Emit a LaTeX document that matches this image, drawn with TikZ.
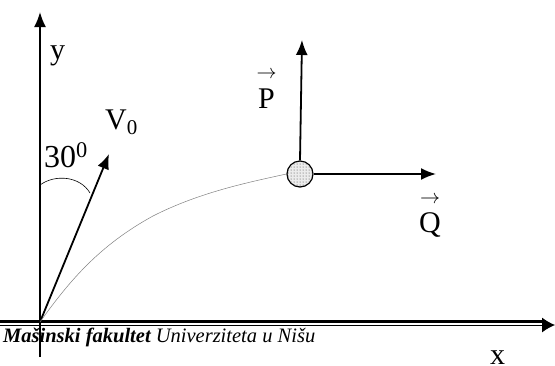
\documentclass[tikz,border=0pt]{standalone}
\usepackage{fontspec}
\setmainfont{Liberation Serif}
\usetikzlibrary{arrows.meta, patterns, positioning}

% vektorska oznaka: strelica iznad slova
\newcommand{\vekt}[2]{\ooalign{#2\cr\hidewidth\raisebox{#1}{\resizebox{20pt}{!}{$\rightarrow$}}\hidewidth\cr}}

\begin{document}
\begin{tikzpicture}[x=1pt, y=-1pt, >={Latex[length=15pt,width=12pt]},
    oznaka/.style={font=\fontsize{30}{32}\selectfont, inner sep=0pt, anchor=base west},
    vektor/.style={line width=1.8pt, ->}]
    \useasboundingbox (0,0) rectangle (555,365);
    % 1. Koordinatne ose
    \coordinate (O) at (40,322);
    \coordinate (ydno) at (40,357);
    \coordinate (yvrh) at (40,12);
    \coordinate (xlevo) at (0,321.5);
    \coordinate (xdesno) at (555,325);
    \draw[vektor] (ydno) -- (yvrh);
    \draw[line width=2.2pt] (xlevo) -- (546,321.5);
    \draw[line width=1pt, ->, >={Latex[length=13pt,width=15pt]}] (0,325) -- (xdesno);
    \node[oznaka] (y) at (50,59) {y};
    \node[oznaka] (x) at (490,364) {x};

    % 2. Pocetna brzina i ugao
    \coordinate (V) at (109,154);
    \draw[vektor] (O) -- (V);
    \node[oznaka] (v0) at (105,129) {V\textsubscript{0}};
    \draw[line width=0.6pt] (40,185) .. controls (55,174) and (80,176) .. (90,193);
    \node[oznaka, font=\fontsize{32}{34}\selectfont] (ugao) at (44,167) {30\textsuperscript{0}};

    % 3. Putanja i tacka
    \node[circle, draw, line width=1.2pt, minimum size=26pt, inner sep=0pt,
          fill=gray!15, postaction={pattern=dots, pattern color=black!75}] (M) at (300,174) {};
    \draw[gray, line width=0.5pt] (O) .. controls (70,280) and (100,245) .. (153,216)
        .. controls (200,192) and (250,182) .. (M.west);

    % 4. Sile
    \coordinate (Pvrh) at (302,40);
    \coordinate (Qkraj) at (436,174);
    \draw[vektor] (M.north) -- (Pvrh);
    \draw[vektor] (M.east) -- (Qkraj);
    \node[oznaka, anchor=base] (P) at (266.5,108) {\vekt{30pt}{P}};
    \node[oznaka, anchor=base] (Q) at (430,232) {\vekt{29pt}{Q}};

    % 5. Natpis
    \node[anchor=base west, inner sep=0pt, font=\fontsize{20.5}{21}\selectfont\itshape] (natpis) at (3,342)
        {\textbf{Mašinski fakultet} Univerziteta u Nišu};
\end{tikzpicture}
\end{document}
